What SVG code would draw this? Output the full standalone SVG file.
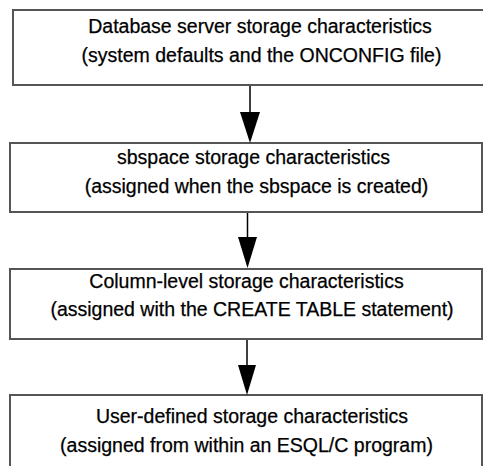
<svg xmlns="http://www.w3.org/2000/svg" width="483" height="466" viewBox="0 0 483 466">
<style>
.box{fill:#fff;stroke:#555;stroke-width:2}
.t{font-family:"Liberation Sans",Arial,sans-serif;font-size:19.5px;fill:#000;stroke:#000;stroke-width:0.25;text-anchor:middle}
.edge{stroke:#000;stroke-width:1.5;fill:none}
.head{fill:#000}
</style>
<rect width="483" height="466" fill="#fff"/>
<g id="node1">
<rect class="box" x="13" y="10" width="480" height="75"/>
<text class="t" x="260" y="33">Database server storage characteristics</text>
<text class="t" x="261.5" y="62">(system defaults and the ONCONFIG file)</text>
</g>
<g id="node2">
<rect class="box" x="10" y="143" width="472" height="69"/>
<text class="t" x="253.5" y="164">sbspace storage characteristics</text>
<text class="t" x="256.5" y="193">(assigned when the sbspace is created)</text>
</g>
<g id="node3">
<rect class="box" x="10" y="269" width="472" height="70"/>
<text class="t" x="246.5" y="288">Column-level storage characteristics</text>
<text class="t" x="252" y="316">(assigned with the CREATE TABLE statement)</text>
</g>
<g id="node4">
<rect class="box" x="10" y="395" width="472" height="80"/>
<text class="t" x="252" y="423">User-defined storage characteristics</text>
<text class="t" x="246.5" y="452">(assigned from within an ESQL/C program)</text>
</g>
<g id="connectors">
<line class="edge" x1="250" y1="86" x2="250" y2="113"/>
<polygon class="head" points="240,112 260,112 250,143"/>
<line class="edge" x1="247.5" y1="213" x2="247.5" y2="238"/>
<polygon class="head" points="238,237 257,237 247.5,268"/>
<line class="edge" x1="247" y1="340" x2="247" y2="366"/>
<polygon class="head" points="238,365 256,365 247,395"/>
</g>
</svg>
